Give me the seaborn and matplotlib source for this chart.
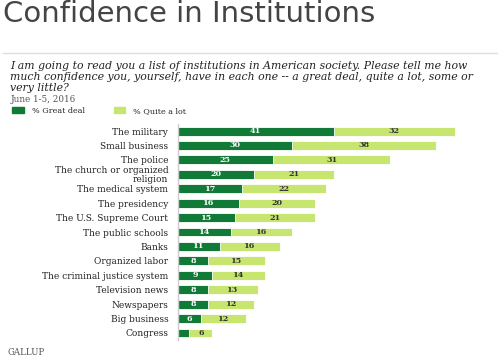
"""
Confidence in Institutions - Gallup, June 2016
"""
import numpy as np
import pandas as pd
import matplotlib
matplotlib.use('Agg')
import matplotlib.pyplot as plt
import matplotlib.patches as mpatches
import seaborn as sns

institutions = ['The military', 'Small business', 'The police',
                'The church or organized\nreligion', 'The medical system',
                'The presidency', 'The U.S. Supreme Court', 'The public schools',
                'Banks', 'Organized labor', 'The criminal justice system',
                'Television news', 'Newspapers', 'Big business', 'Congress']
great_deal = [41, 30, 25, 20, 17, 16, 15, 14, 11, 8, 9, 8, 8, 6, 3]
quite_a_lot = [32, 38, 31, 21, 22, 20, 21, 16, 16, 15, 14, 13, 12, 12, 6]

DARK = '#117a37'
LIGHT = '#c7e66f'
SERIF = 'DejaVu Serif'

df = pd.DataFrame({'inst': institutions, 'great': great_deal, 'quite': quite_a_lot})
df['total'] = df['great'] + df['quite']

sns.set_theme(style='white')
fig = plt.figure(figsize=(5, 3.6), dpi=100)
ax = fig.add_axes([0.356, 0.055, 0.644, 0.601])

sns.barplot(data=df, y='inst', x='total', color=LIGHT, orient='h', ax=ax,
            width=0.62, saturation=1, edgecolor='white', linewidth=0.6)
sns.barplot(data=df, y='inst', x='great', color=DARK, orient='h', ax=ax,
            width=0.62, saturation=1, edgecolor='white', linewidth=0.6)

for i, row in df.iterrows():
    if row['great'] >= 5:
        ax.text(row['great'] / 2, i, str(row['great']), ha='center', va='center',
                color='white', fontsize=5.8, family=SERIF, fontweight='bold')
    ax.text(row['great'] + row['quite'] / 2, i, str(row['quite']), ha='center',
            va='center', color='#333333', fontsize=5.8, family=SERIF, fontweight='bold')

ax.set_xlim(0, 84.9)
ax.set_xlabel('')
ax.set_ylabel('')
ax.set_xticks([])
for s in ['top', 'right', 'bottom']:
    ax.spines[s].set_visible(False)
ax.spines['left'].set_color('#cccccc')
ax.spines['left'].set_linewidth(1)
ax.tick_params(axis='y', length=0, pad=7)
for lbl in ax.get_yticklabels():
    lbl.set_family(SERIF)
    lbl.set_fontsize(6.5)
    lbl.set_color('#222222')
    lbl.set_linespacing(0.95)

# header
fig.text(0.006, 0.94, 'Confidence in Institutions', fontsize=21, family='DejaVu Sans',
         color='#444444', va='baseline')
fig.add_artist(plt.Line2D([0.006, 0.994], [0.853, 0.853], color='#dddddd', lw=1))
fig.text(0.02, 0.83,
         'I am going to read you a list of institutions in American society. Please tell me how\n'
         'much confidence you, yourself, have in each one -- a great deal, quite a lot, some or\n'
         'very little?',
         fontsize=7.8, family=SERIF, style='italic', color='#222222', va='top',
         linespacing=1.1)
fig.text(0.022, 0.724, 'June 1-5, 2016', fontsize=6.3, family=SERIF, color='#555555',
         va='center')

handles = [mpatches.Patch(color=DARK, label='% Great deal'),
           mpatches.Patch(color=LIGHT, label='% Quite a lot')]
fig.legend(handles=handles, loc='center left', bbox_to_anchor=(0.01, 0.692), ncol=2,
           frameon=False, prop={'family': SERIF, 'size': 5.8}, handlelength=1.4,
           handleheight=0.8, columnspacing=3.6, handletextpad=1.0)

fig.text(0.016, 0.022, 'GALLUP', fontsize=6.2, family=SERIF, color='#555555',
         va='center')

fig.savefig('out.png', dpi=100)
